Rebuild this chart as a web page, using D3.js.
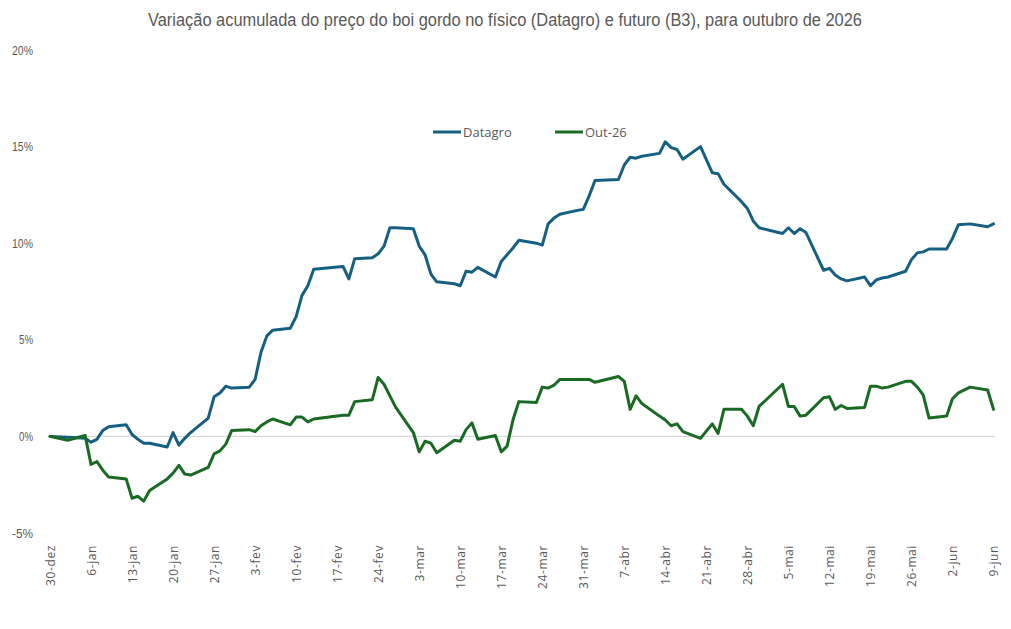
<!DOCTYPE html>
<html>
<head>
<meta charset="utf-8">
<script src="https://cdn.jsdelivr.net/npm/d3@7"></script>
<style>
  body { margin: 0; background: #fff; }
  svg { display: block; }
</style>
</head>
<body>
<div id="viz"></div>
<script>
var width = 1011
var height = 629

// trading days, Datagro and Out-26 cumulative change, in %
var dates = [
  "2025-12-30","2026-01-02","2026-01-05","2026-01-06","2026-01-07","2026-01-08","2026-01-09",
  "2026-01-12","2026-01-13","2026-01-14","2026-01-15","2026-01-16",
  "2026-01-19","2026-01-20","2026-01-21","2026-01-22","2026-01-23",
  "2026-01-26","2026-01-27","2026-01-28","2026-01-29","2026-01-30",
  "2026-02-02","2026-02-03","2026-02-04","2026-02-05","2026-02-06",
  "2026-02-09","2026-02-10","2026-02-11","2026-02-12","2026-02-13",
  "2026-02-18","2026-02-19","2026-02-20",
  "2026-02-23","2026-02-24","2026-02-25","2026-02-26","2026-02-27",
  "2026-03-02","2026-03-03","2026-03-04","2026-03-05","2026-03-06",
  "2026-03-09","2026-03-10","2026-03-11","2026-03-12","2026-03-13",
  "2026-03-16","2026-03-17","2026-03-18","2026-03-19","2026-03-20",
  "2026-03-23","2026-03-24","2026-03-25","2026-03-26","2026-03-27",
  "2026-03-30","2026-03-31","2026-04-01","2026-04-02",
  "2026-04-06","2026-04-07","2026-04-08","2026-04-09","2026-04-10",
  "2026-04-13","2026-04-14","2026-04-15","2026-04-16","2026-04-17",
  "2026-04-20","2026-04-22","2026-04-23","2026-04-24",
  "2026-04-27","2026-04-28","2026-04-29","2026-04-30",
  "2026-05-04","2026-05-05","2026-05-06","2026-05-07","2026-05-08",
  "2026-05-11","2026-05-12","2026-05-13","2026-05-14","2026-05-15",
  "2026-05-18","2026-05-19","2026-05-20","2026-05-21","2026-05-22",
  "2026-05-25","2026-05-26","2026-05-27","2026-05-28","2026-05-29",
  "2026-06-01","2026-06-02","2026-06-03","2026-06-05","2026-06-08","2026-06-09"
]

var datagro = [
  0, -0.05, -0.1, -0.3, -0.15, 0.3, 0.5,
  0.6, 0.1, -0.15, -0.35, -0.35,
  -0.55, 0.2, -0.45, -0.1, 0.2,
  0.95, 2.05, 2.25, 2.6, 2.5,
  2.55, 2.95, 4.35, 5.2, 5.5,
  5.6, 6.2, 7.3, 7.8, 8.65,
  8.8, 8.15, 9.2,
  9.25, 9.45, 9.85, 10.8, 10.8,
  10.75, 9.85, 9.4, 8.4, 8.0,
  7.9, 7.8, 8.55, 8.5, 8.75,
  8.25, 9.05, 9.4, 9.75, 10.15,
  10.0, 9.9, 11.0, 11.3, 11.5,
  11.7, 11.75, 12.45, 13.25,
  13.3, 14.05, 14.45, 14.4, 14.5,
  14.65, 15.25, 14.95, 14.85, 14.35,
  15.0, 13.65, 13.6, 13.05,
  12.15, 11.8, 11.15, 10.8,
  10.5, 10.8, 10.5, 10.75, 10.55,
  8.6, 8.7, 8.35, 8.15, 8.05,
  8.25, 7.8, 8.1, 8.2, 8.25,
  8.55, 9.15, 9.5, 9.55, 9.7,
  9.7, 10.25, 10.95, 11.0, 10.85, 11.0
]

var out26 = [
  0, -0.2, 0.05, -1.45, -1.3, -1.75, -2.1,
  -2.2, -3.2, -3.1, -3.35, -2.8,
  -2.2, -1.9, -1.5, -1.95, -2.0,
  -1.6, -0.9, -0.75, -0.4, 0.3,
  0.35, 0.25, 0.55, 0.75, 0.9,
  0.6, 1.0, 1.0, 0.75, 0.9,
  1.1, 1.1, 1.8,
  1.9, 3.05, 2.7, 2.1, 1.5,
  0.2, -0.8, -0.25, -0.35, -0.85,
  -0.2, -0.25, 0.35, 0.7, -0.15,
  0.05, -0.8, -0.5, 0.85, 1.8,
  1.75, 2.55, 2.5, 2.65, 2.95,
  2.95, 2.95, 2.95, 2.8,
  3.1, 2.85, 1.4, 2.1, 1.7,
  1.05, 0.85, 0.55, 0.65, 0.25,
  -0.1, 0.65, 0.15, 1.4,
  1.4, 1.05, 0.55, 1.55,
  2.7, 1.55, 1.55, 1.05, 1.1,
  2.0, 2.05, 1.4, 1.6, 1.45,
  1.5, 2.6, 2.6, 2.5, 2.55,
  2.85, 2.85, 2.55, 2.15, 0.95,
  1.05, 1.95, 2.25, 2.55, 2.4, 1.4
]

var seriesNames = ["Datagro", "Out-26"]
var seriesColors = ["#156082", "#196B24"]

var tickDates = [
  "2025-12-30","2026-01-06","2026-01-13","2026-01-20","2026-01-27",
  "2026-02-03","2026-02-10","2026-02-17","2026-02-24",
  "2026-03-03","2026-03-10","2026-03-17","2026-03-24","2026-03-31",
  "2026-04-07","2026-04-14","2026-04-21","2026-04-28",
  "2026-05-05","2026-05-12","2026-05-19","2026-05-26",
  "2026-06-02","2026-06-09"
]
var monthNames = ["jan","fev","mar","abr","mai","jun","jul","ago","set","out","nov","dez"]
var yTicks = [-5, 0, 5, 10, 15, 20]

var title = "Variação acumulada do preço do boi gordo no físico (Datagro) e futuro (B3), para outubro de 2026"

var parseDate = d3.timeParse("%Y-%m-%d")

var rows = dates.map(function(d, i){
  return {date: parseDate(d), datagro: datagro[i], out26: out26[i]}
})

var canvas = d3.select("#viz")
  .append("svg")
  .attr("width", width)
  .attr("height", height)

var xScale = d3.scaleTime()
  .domain([parseDate(tickDates[0]), parseDate(tickDates[tickDates.length - 1])])
  .range([50, 993.5])

var yScale = d3.scaleLinear()
  .domain([-5, 20])
  .range([533, 50])

// title, squeezed to the narrow width of the original
canvas.append("text")
  .text(title)
  .attr("x", 505)
  .attr("y", 26)
  .attr("text-anchor", "middle")
  .attr("font-family", "Liberation Sans Narrow, Arial Narrow, sans-serif")
  .attr("font-size", 17.5)
  .attr("textLength", 714)
  .attr("lengthAdjust", "spacingAndGlyphs")
  .attr("fill", "#595959")

// y axis (labels only)
var yAxis = d3.axisLeft(yScale)
  .tickValues(yTicks)
  .tickSize(0)
  .tickPadding(0)
  .tickFormat(function(d){ return d + "%" })

var yG = canvas.append("g")
  .attr("transform", "translate(33,0)")
  .call(yAxis)
yG.select(".domain").remove()
yG.selectAll("text")
  .attr("font-family", "Liberation Sans Narrow, Arial Narrow, sans-serif")
  .attr("font-size", 13)
  .attr("fill", "#595959")
  .attr("textLength", function(d){ return (d + "%").length * 7 })
  .attr("lengthAdjust", "spacingAndGlyphs")

// zero line
canvas.append("line")
  .attr("x1", xScale.range()[0])
  .attr("x2", 995)
  .attr("y1", yScale(0))
  .attr("y2", yScale(0))
  .attr("stroke", "#d9d9d9")
  .attr("stroke-width", 1.3)

// x axis
var xAxis = d3.axisBottom(xScale)
  .tickValues(tickDates.map(parseDate))
  .tickSize(0)
  .tickFormat(function(d){ return d.getDate() + "-" + monthNames[d.getMonth()] })

var xG = canvas.append("g")
  .attr("transform", "translate(0,545)")
  .call(xAxis)
xG.select(".domain").remove()
xG.selectAll("text")
  .attr("transform", "rotate(-90)")
  .attr("x", 0)
  .attr("y", 0)
  .attr("dy", "0.35em")
  .attr("text-anchor", "end")
  .attr("font-family", "Open Sans, sans-serif")
  .attr("font-size", 12)
  .attr("letter-spacing", 0.6)
  .attr("fill", "#595959")

// lines
var keys = ["datagro", "out26"]
keys.forEach(function(k, i){
  var valueLine = d3.line()
    .x(function(d){ return xScale(d.date) })
    .y(function(d){ return yScale(d[k]) })

  canvas.append("path")
    .datum(rows)
    .attr("d", valueLine)
    .attr("fill", "none")
    .attr("stroke", seriesColors[i])
    .attr("stroke-width", 3)
    .attr("stroke-linejoin", "round")
    .attr("stroke-linecap", "round")
})

// legend
var legendX = [433, 555]
seriesNames.forEach(function(name, i){
  canvas.append("line")
    .attr("x1", legendX[i])
    .attr("x2", legendX[i] + 28)
    .attr("y1", 132)
    .attr("y2", 132)
    .attr("stroke", seriesColors[i])
    .attr("stroke-width", 3)
  canvas.append("text")
    .text(name)
    .attr("x", legendX[i] + 30)
    .attr("y", 137)
    .attr("font-family", "Open Sans, sans-serif")
    .attr("font-size", 13)
    .attr("fill", "#595959")
})
</script>
</body>
</html>
